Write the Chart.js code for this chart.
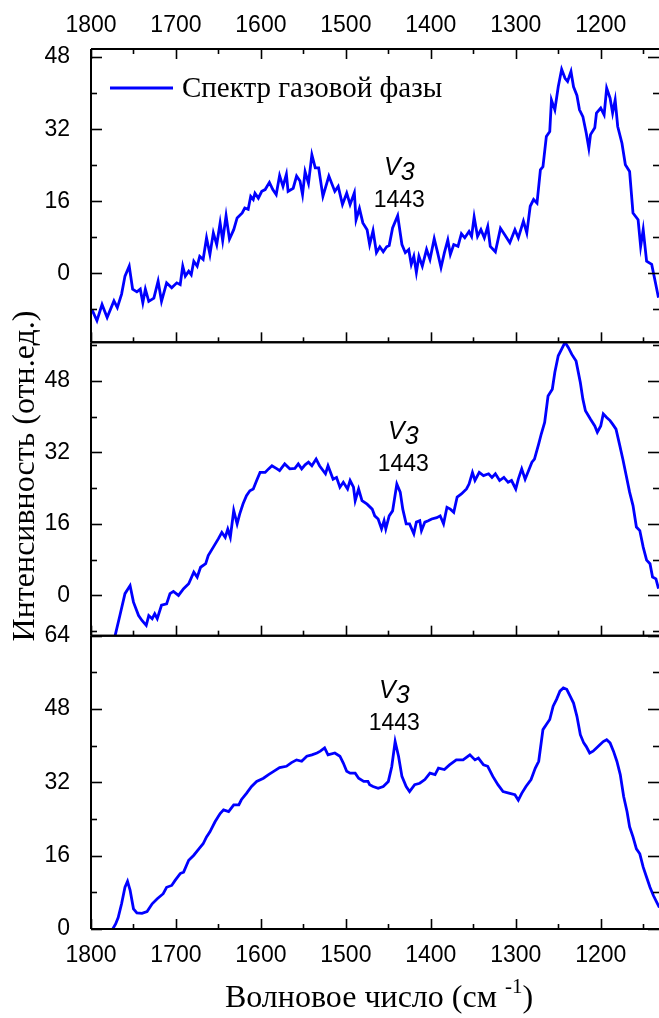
<!DOCTYPE html>
<html>
<head>
<meta charset="utf-8">
<script src="https://cdn.jsdelivr.net/npm/chart.js@4"></script>
<style>
  html, body { margin: 0; padding: 0; background: #fff; }
</style>
</head>
<body>
<canvas id="spectra" width="659" height="1018"></canvas>
<script>
// wavenumber axis (cm-1), drawn right-to-left
const X_MIN = 1131.4;
const X_MAX = 1800;
const xTicks = [1800, 1700, 1600, 1500, 1400, 1300, 1200];
const yTicks = [0, 16, 32, 48];
const yTicksLow = [0, 16, 32, 48, 64];

// gas phase spectrum (top panel)
const gasWn = [
  1799, 1793, 1787, 1781, 1773, 1769, 1764, 1760, 1755, 1751,
  1746, 1742, 1739, 1736, 1732, 1726, 1721, 1717, 1711, 1705,
  1699, 1695, 1692, 1689, 1685, 1682, 1679, 1675, 1672, 1668,
  1664, 1660, 1656, 1652, 1648, 1645, 1641, 1637, 1632, 1628,
  1622, 1619, 1615, 1612, 1609, 1607, 1603, 1599, 1595, 1590,
  1586, 1582, 1578, 1574, 1570, 1568, 1562, 1558, 1554, 1551,
  1548, 1544, 1540, 1536, 1532, 1527, 1520, 1513, 1509, 1504,
  1499, 1495, 1490, 1488, 1484, 1480, 1475, 1472, 1468, 1464,
  1460, 1456, 1452, 1449, 1445, 1439, 1434, 1430, 1426, 1423,
  1420, 1417, 1414, 1410, 1405, 1401, 1396, 1392, 1388, 1384,
  1380, 1377, 1373, 1368, 1364, 1360, 1355, 1352, 1349, 1345,
  1341, 1337, 1333, 1330, 1324, 1318, 1313, 1307, 1301, 1297,
  1291, 1287, 1283, 1279, 1275, 1271, 1268, 1264, 1260, 1258,
  1254, 1250, 1246, 1242, 1239, 1235, 1232, 1228, 1225, 1221,
  1217, 1214, 1212, 1207, 1205, 1200, 1196, 1193, 1189, 1186,
  1183, 1180, 1175, 1171, 1166, 1162, 1156, 1153, 1150, 1146,
  1140, 1136, 1132
];
const gasInt = [
  -8.0, -10.5, -6.9, -9.8, -6.1, -7.6, -4.6, -0.6, 1.6, -3.5,
  -4.1, -3.5, -6.5, -3.5, -6.2, -5.5, -1.7, -6.2, -2.1, -3.2,
  -2.1, -2.5, 1.6, -0.6, 0.5, -0.3, 2.7, 1.6, 3.8, 3.1,
  7.9, 4.2, 9.0, 6.4, 11.2, 7.3, 12.8, 7.6, 9.7, 12.3,
  13.4, 14.5, 14.2, 17.1, 16.4, 17.8, 16.7, 18.2, 18.6, 20.2,
  18.6, 17.5, 21.7, 19.3, 22.0, 18.2, 18.9, 21.6, 20.5, 17.5,
  22.6, 20.0, 26.3, 23.4, 23.4, 17.1, 21.6, 18.2, 19.3, 15.3,
  17.8, 15.3, 17.9, 11.9, 14.4, 11.2, 9.7, 6.4, 9.5, 4.6,
  5.9, 4.8, 5.9, 6.2, 10.1, 12.8, 6.4, 4.6, 5.3, 2.0,
  3.8, 0.2, 3.8, 1.6, 5.3, 3.1, 7.7, 4.6, 1.3, 4.6,
  7.4, 4.2, 6.4, 6.0, 8.8, 7.9, 9.3, 8.2, 12.5, 8.2,
  9.7, 7.9, 10.4, 6.0, 4.8, 10.0, 8.6, 6.8, 9.7, 7.9,
  11.6, 9.0, 14.9, 16.4, 15.6, 23.0, 23.7, 30.4, 31.5, 38.5,
  36.3, 41.4, 45.3, 43.3, 42.6, 44.8, 41.4, 39.5, 36.3, 34.8,
  31.1, 27.8, 30.8, 32.3, 35.6, 36.7, 35.2, 41.1, 38.9, 35.6,
  38.5, 32.6, 28.9, 24.1, 22.6, 13.4, 11.9, 6.0, 9.7, 2.7,
  2.0, -1.7, -5.4
];

// middle panel
const midWn = [
  1774, 1771, 1766, 1760, 1754, 1750, 1744, 1740, 1735, 1732,
  1728, 1725, 1722, 1717, 1711, 1707, 1703, 1697, 1691, 1685,
  1679, 1675, 1671, 1665, 1662, 1656, 1650, 1646, 1642, 1639,
  1636, 1632, 1628, 1625, 1621, 1617, 1613, 1609, 1605, 1601,
  1595, 1591, 1587, 1581, 1578, 1572, 1566, 1560, 1556, 1552,
  1548, 1544, 1540, 1535, 1531, 1524, 1521, 1515, 1511, 1507,
  1503, 1498, 1495, 1491, 1489, 1485, 1481, 1475, 1469, 1466,
  1462, 1458, 1455, 1453, 1449, 1445, 1440, 1436, 1433, 1429,
  1425, 1420, 1417, 1413, 1411, 1407, 1403, 1399, 1393, 1389,
  1385, 1381, 1377, 1373, 1369, 1364, 1358, 1355, 1351, 1348,
  1343, 1338, 1332, 1328, 1324, 1319, 1314, 1309, 1305, 1300,
  1297, 1293, 1289, 1285, 1281, 1278, 1273, 1270, 1266, 1262,
  1257, 1254, 1250, 1246, 1242, 1238, 1234, 1229, 1224, 1221,
  1218, 1212, 1207, 1204, 1200, 1197, 1193, 1189, 1186, 1182,
  1178, 1174, 1170, 1166, 1162, 1158, 1154, 1150, 1146, 1142,
  1139, 1135, 1132
];
const midInt = [
  -11.0, -8.5, -4.5, 0.4, 2.2, -1.5, -4.5, -5.6, -6.7, -4.5,
  -5.2, -4.1, -5.2, -2.2, -1.9, 0.4, 0.9, 0.0, 1.5, 2.6,
  5.2, 4.1, 6.3, 7.1, 8.9, 10.8, 12.7, 14.1, 13.0, 14.8,
  13.0, 19.0, 16.0, 18.2, 20.5, 22.3, 23.4, 23.8, 25.7, 27.5,
  27.5, 28.3, 29.0, 28.3, 27.9, 29.4, 28.3, 28.4, 29.4, 28.3,
  29.2, 29.8, 29.0, 30.5, 29.0, 27.2, 29.0, 26.0, 26.4, 24.2,
  25.3, 23.8, 25.7, 24.2, 21.2, 23.8, 21.2, 20.4, 19.3, 17.8,
  17.1, 14.9, 16.7, 14.9, 17.8, 18.9, 24.9, 23.1, 19.3, 16.0,
  16.0, 13.8, 16.4, 16.7, 14.5, 16.4, 16.7, 17.1, 17.4, 17.8,
  16.0, 19.7, 19.3, 18.6, 22.0, 22.7, 23.8, 24.9, 27.5, 25.7,
  27.5, 26.8, 27.2, 26.4, 27.2, 25.7, 26.4, 25.3, 25.7, 23.8,
  26.0, 28.3, 26.0, 27.9, 29.8, 30.5, 33.9, 36.1, 38.7, 44.6,
  46.1, 49.9, 53.6, 55.1, 56.6, 55.4, 53.9, 52.4, 47.6, 43.9,
  41.3, 39.4, 37.9, 36.5, 37.9, 40.6, 39.8, 39.1, 38.3, 37.2,
  33.9, 30.5, 26.8, 23.1, 20.1, 15.3, 14.5, 10.8, 7.9, 7.1,
  4.1, 3.7, 1.5
];

// bottom panel
const lowWn = [
  1778, 1776, 1771, 1768, 1764, 1760, 1757, 1754, 1750, 1746, 1740,
  1734, 1728, 1722, 1715, 1711, 1705, 1701, 1695, 1691, 1685,
  1679, 1673, 1668, 1664, 1660, 1654, 1648, 1644, 1638, 1632,
  1626, 1623, 1617, 1611, 1605, 1597, 1591, 1585, 1578, 1570,
  1564, 1558, 1552, 1546, 1540, 1534, 1530, 1525, 1521, 1513,
  1507, 1503, 1499, 1495, 1489, 1485, 1479, 1474, 1472, 1468,
  1462, 1456, 1450, 1446, 1442, 1438, 1434, 1429, 1425, 1419,
  1413, 1407, 1401, 1395, 1391, 1384, 1378, 1370, 1362, 1354,
  1348, 1344, 1338, 1333, 1327, 1321, 1315, 1307, 1301, 1297,
  1293, 1288, 1282, 1277, 1273, 1268, 1264, 1260, 1256, 1252,
  1248, 1244, 1240, 1236, 1232, 1228, 1224, 1220, 1217, 1213,
  1209, 1205, 1201, 1197, 1193, 1189, 1185, 1181, 1177, 1173,
  1169, 1166, 1162, 1158, 1154, 1150, 1146, 1142, 1138, 1134, 1131
];
const lowInt = [
  -2.0, -0.5, 1.1, 2.5, 5.5, 9.1, 10.4, 8.5, 4.4, 3.5, 3.4,
  3.8, 5.5, 6.6, 7.7, 9.1, 9.5, 10.6, 12.1, 12.4, 15.0,
  16.1, 17.5, 18.6, 20.1, 21.2, 23.4, 25.2, 26.0, 25.6, 27.1,
  27.1, 28.2, 29.6, 31.1, 32.2, 32.9, 33.7, 34.4, 35.2, 35.5,
  36.3, 36.9, 36.6, 37.7, 38.0, 38.4, 38.8, 39.5, 38.0, 38.4,
  37.7, 36.2, 34.4, 34.0, 34.0, 32.9, 32.2, 32.2, 31.5, 31.1,
  30.7, 31.1, 32.2, 35.4, 40.9, 37.7, 33.3, 31.1, 30.0, 31.5,
  31.8, 32.6, 34.0, 33.7, 35.1, 34.8, 35.8, 36.9, 36.9, 38.0,
  36.9, 37.3, 35.8, 35.5, 33.3, 31.5, 30.0, 29.6, 29.3, 28.1,
  29.6, 31.1, 32.6, 35.1, 36.6, 43.5, 44.6, 45.7, 48.6, 50.1,
  51.9, 52.6, 52.3, 50.8, 49.3, 46.4, 42.4, 40.6, 39.8, 38.4,
  38.8, 39.5, 40.2, 40.9, 41.3, 40.6, 38.8, 36.6, 33.7, 28.9,
  25.6, 22.3, 20.1, 17.5, 16.4, 13.5, 11.3, 9.1, 7.3, 5.8, 4.7
];

const BLUE = '#0000ff';
const tickFont = { family: 'Liberation Sans', size: 23 };
const SERIF = 'Liberation Serif';

function toPoints(wn, vals) {
  return wn.map((x, i) => ({ x: x, y: vals[i] }));
}

function panelAxis(lo, hi, ticks) {
  return {
    type: 'linear',
    position: 'left',
    stack: 'panels',
    stackWeight: 1,
    min: lo,
    max: hi,
    afterBuildTicks: s => { s.ticks = ticks.map(v => ({ value: v })); },
    afterFit: s => { s.width = 91; },
    grid: { display: false },
    border: { display: false },
    ticks: { font: tickFont, color: '#000', padding: 13, callback: v => String(v) }
  };
}

// wavenumber scales; their labels are painted by the plugin below
function wnAxis(pos, size) {
  return {
    type: 'linear',
    position: pos,
    min: X_MIN,
    max: X_MAX,
    reverse: true,
    afterBuildTicks: s => { s.ticks = xTicks.map(v => ({ value: v })); },
    afterFit: s => { s.height = size; },
    grid: { display: false },
    border: { display: false },
    ticks: { display: false }
  };
}

// panel id, and where the "v3 / 1443" label sits (in panel units)
const panels = [
  { id: 'yTop', nuY: 21.9, numY: 14.8, dx: 5 },
  { id: 'yMid', nuY: 35.0, numY: 27.9, dx: 9 },
  { id: 'yBot', nuY: 50.5, numY: 43.5, dx: 0 }
];

function seg(ctx, x1, y1, x2, y2) {
  ctx.beginPath();
  ctx.moveTo(x1, y1);
  ctx.lineTo(x2, y2);
  ctx.stroke();
}

const decorations = {
  id: 'decorations',
  afterDatasetsDraw(chart) {
    const ctx = chart.ctx;
    const xs = chart.scales.x;
    ctx.save();
    ctx.strokeStyle = '#000';
    ctx.fillStyle = '#000';

    // wavenumber labels above and below the stack
    ctx.font = '23px "Liberation Sans"';
    ctx.textAlign = 'center';
    ctx.textBaseline = 'alphabetic';
    chart.scales.x2.ticks.forEach(t => {
      ctx.fillText(String(t.value), chart.scales.x2.getPixelForValue(t.value), 32);
    });
    xs.ticks.forEach(t => {
      ctx.fillText(String(t.value), xs.getPixelForValue(t.value), 962);
    });

    panels.forEach((p, i) => {
      const ys = chart.scales[p.id];
      // frame
      ctx.lineWidth = 2;
      seg(ctx, xs.left, ys.top, xs.left, ys.bottom);
      seg(ctx, xs.left, ys.top, xs.right, ys.top);
      seg(ctx, xs.left, ys.bottom, xs.right, ys.bottom);

      // wavenumber ticks, pointing inward
      ctx.lineWidth = 1.6;
      for (let v = X_MAX; v > X_MIN; v -= 50) {
        const px = Math.round(xs.getPixelForValue(v)) + 0.5;
        const len = v % 100 === 0 ? 10 : 5;
        seg(ctx, px, ys.bottom, px, ys.bottom - len);
        if (i === 0) seg(ctx, px, ys.top, px, ys.top + len);
      }
      // intensity ticks on both sides
      for (let v = Math.ceil(ys.min / 8) * 8; v <= ys.max + 0.01; v += 8) {
        const py = Math.round(ys.getPixelForValue(v)) + 0.5;
        const len = v % 16 === 0 ? 11 : 6;
        seg(ctx, xs.left, py, xs.left + len, py);
        seg(ctx, xs.right, py, xs.right - len, py);
      }

      // band label
      const cx = xs.getPixelForValue(1443) + p.dx;
      ctx.font = 'italic 25px "Liberation Sans"';
      const wV = ctx.measureText('V').width;
      const w3 = ctx.measureText('3').width;
      const nuBase = ys.getPixelForValue(p.nuY);
      ctx.textAlign = 'left';
      ctx.fillText('V', cx - (wV + w3) / 2, nuBase);
      ctx.fillText('3', cx - (wV + w3) / 2 + wV, nuBase + 5);
      ctx.font = '23px "Liberation Sans"';
      ctx.textAlign = 'center';
      ctx.fillText('1443', cx, ys.getPixelForValue(p.numY));
    });

    // legend in the top panel
    const top = chart.scales.yTop;
    ctx.strokeStyle = BLUE;
    ctx.lineWidth = 3;
    seg(ctx, 110, top.top + 39, 173, top.top + 39);
    ctx.font = '29px "' + SERIF + '"';
    ctx.textAlign = 'left';
    ctx.fillText(chart.data.datasets[0].label, 182, top.top + 48);

    // y title
    ctx.save();
    ctx.font = '32px "' + SERIF + '"';
    ctx.translate(34, 476);
    ctx.rotate(-Math.PI / 2);
    ctx.textAlign = 'center';
    ctx.fillText('Интенсивность (отн.ед.)', 0, 0);
    ctx.restore();

    // x title with superscript
    const main = 'Волновое число (см ';
    ctx.font = '32px "' + SERIF + '"';
    const wMain = ctx.measureText(main).width;
    const wClose = ctx.measureText(')').width;
    ctx.font = '21px "' + SERIF + '"';
    const wSup = ctx.measureText('-1').width;
    const total = wMain + wSup + wClose;
    const x0 = 379 - total / 2;
    const base = 1007;
    ctx.textAlign = 'left';
    ctx.font = '32px "' + SERIF + '"';
    ctx.fillText(main, x0, base);
    ctx.font = '21px "' + SERIF + '"';
    ctx.fillText('-1', x0 + wMain, base - 14);
    ctx.font = '32px "' + SERIF + '"';
    ctx.fillText(')', x0 + wMain + wSup, base);
    ctx.restore();
  }
};

const lineStyle = {
  borderColor: BLUE,
  borderWidth: 2.8,
  pointRadius: 0,
  fill: false,
  tension: 0,
  clip: 0
};

new Chart(document.getElementById('spectra'), {
  type: 'line',
  data: {
    datasets: [
      Object.assign({ label: 'Спектр газовой фазы', data: toPoints(gasWn, gasInt), yAxisID: 'yTop' }, lineStyle),
      Object.assign({ label: 'middle', data: toPoints(midWn, midInt), yAxisID: 'yMid' }, lineStyle),
      Object.assign({ label: 'bottom', data: toPoints(lowWn, lowInt), yAxisID: 'yBot' }, lineStyle)
    ]
  },
  options: {
    responsive: false,
    animation: false,
    layout: { padding: 0 },
    plugins: { legend: { display: false }, tooltip: { enabled: false } },
    scales: {
      x: wnAxis('bottom', 89),
      x2: wnAxis('top', 49),
      yBot: panelAxis(0, 64, yTicksLow),
      yMid: panelAxis(-9, 56.6, yTicks),
      yTop: panelAxis(-15.3, 49.8, yTicks)
    }
  },
  plugins: [decorations]
});
</script>
</body>
</html>
